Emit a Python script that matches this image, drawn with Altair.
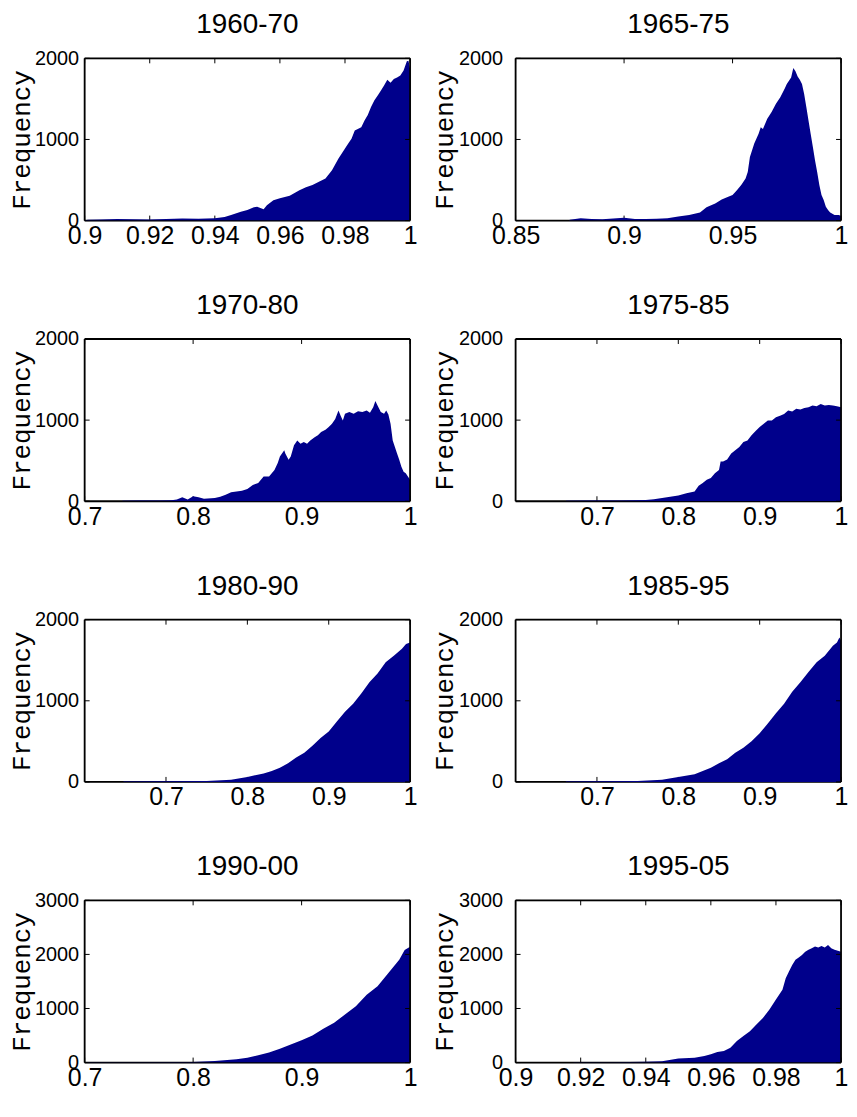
import altair as alt
import pandas as pd

NAVY = "#00008B"
SANS = "Liberation Sans, Arial, sans-serif"
MONO = "Liberation Mono, monospace"

TITLES = ["1960-70", "1965-75", "1970-80", "1975-85",
          "1980-90", "1985-95", "1990-00", "1995-05"]
X_DOMAINS = [[0.9, 1], [0.85, 1], [0.7, 1], [0.6, 1],
             [0.6, 1], [0.6, 1], [0.7, 1], [0.9, 1]]
X_TICKS = [[0.9, 0.92, 0.94, 0.96, 0.98, 1],
           [0.85, 0.9, 0.95, 1],
           [0.7, 0.8, 0.9, 1],
           [0.7, 0.8, 0.9, 1],
           [0.7, 0.8, 0.9, 1],
           [0.7, 0.8, 0.9, 1],
           [0.7, 0.8, 0.9, 1],
           [0.9, 0.92, 0.94, 0.96, 0.98, 1]]
Y_MAX = [2000, 2000, 2000, 2000, 2000, 2000, 3000, 3000]
Y_TICKS = [[0, 1000, 2000]] * 6 + [[0, 1000, 2000, 3000]] * 2

# 1960-70
X_1960 = [0.9, 0.901, 0.905, 0.91, 0.915, 0.92, 0.925, 0.93, 0.935, 0.94, 0.943,
          0.945, 0.948, 0.95, 0.952, 0.953, 0.955, 0.956, 0.958, 0.96, 0.963, 0.966,
          0.968, 0.97, 0.972, 0.974, 0.976, 0.978, 0.98, 0.981, 0.982, 0.983, 0.985,
          0.986, 0.987, 0.988, 0.989, 0.99, 0.991, 0.992, 0.993, 0.994, 0.995, 0.996,
          0.997, 0.998, 0.999, 0.9995, 1.0]
F_1960 = [0, 10, 12, 18, 15, 14, 20, 25, 22, 30, 45, 70, 110, 130, 165, 170, 140,
          190, 250, 275, 305, 375, 410, 440, 480, 520, 620, 765, 890, 950, 1010,
          1110, 1150, 1235, 1300, 1400, 1480, 1540, 1600, 1665, 1735, 1700, 1745,
          1765, 1790, 1850, 1965, 1970, 1870]

# 1965-75
X_1965 = [0.8745, 0.875, 0.88, 0.885, 0.89, 0.895, 0.9, 0.905, 0.91, 0.915, 0.92,
          0.925, 0.93, 0.935, 0.938, 0.942, 0.945, 0.948, 0.95, 0.952, 0.954, 0.956,
          0.957, 0.958, 0.96, 0.962, 0.963, 0.964, 0.966, 0.968, 0.97, 0.972, 0.974,
          0.975, 0.976, 0.977, 0.978, 0.979, 0.98, 0.981, 0.982, 0.983, 0.984, 0.985,
          0.986, 0.987, 0.988, 0.989, 0.99, 0.991, 0.992, 0.993, 0.994, 0.995, 0.997,
          0.999, 1.0]
F_1965 = [0, 10, 30, 20, 15, 25, 35, 20, 20, 22, 30, 50, 70, 100, 165, 210, 260,
          295, 315, 375, 440, 520, 600, 785, 950, 1070, 1150, 1130, 1255, 1340, 1440,
          1520, 1625, 1685, 1725, 1765, 1880, 1840, 1775, 1735, 1685, 1560, 1400,
          1235, 1070, 910, 745, 600, 440, 315, 255, 170, 130, 100, 70, 70, 55]

# 1970-80
X_1970 = [0.7345, 0.735, 0.75, 0.77, 0.78, 0.785, 0.79, 0.795, 0.8, 0.805, 0.81,
          0.82, 0.825, 0.83, 0.835, 0.84, 0.845, 0.85, 0.855, 0.86, 0.865, 0.87,
          0.875, 0.878, 0.88, 0.884, 0.885, 0.888, 0.89, 0.893, 0.896, 0.899, 0.902,
          0.905, 0.908, 0.912, 0.915, 0.918, 0.922, 0.925, 0.928, 0.931, 0.934,
          0.936, 0.938, 0.94, 0.944, 0.948, 0.952, 0.956, 0.96, 0.963, 0.966, 0.968,
          0.97, 0.973, 0.976, 0.978, 0.98, 0.982, 0.984, 0.986, 0.988, 0.99, 0.992,
          0.994, 0.996, 0.998, 1.0]
F_1970 = [0, 5, 8, 10, 12, 20, 50, 20, 60, 50, 30, 40, 55, 80, 110, 120, 130, 150,
          200, 225, 305, 305, 385, 470, 550, 630, 590, 510, 550, 690, 750, 710, 730,
          710, 750, 790, 815, 855, 880, 915, 955, 1015, 1120, 1055, 995, 1080, 1100,
          1080, 1110, 1100, 1120, 1090, 1160, 1235, 1180, 1100, 1080, 1120, 1070,
          955, 750, 670, 590, 510, 425, 365, 345, 305, 265]

# 1975-85
X_1975 = [0.6615, 0.662, 0.7, 0.73, 0.76, 0.77, 0.78, 0.79, 0.8, 0.81, 0.82, 0.825,
          0.83, 0.835, 0.84, 0.845, 0.85, 0.852, 0.855, 0.86, 0.865, 0.87, 0.875,
          0.88, 0.885, 0.89, 0.895, 0.9, 0.905, 0.91, 0.915, 0.92, 0.925, 0.93,
          0.935, 0.94, 0.945, 0.95, 0.955, 0.96, 0.965, 0.97, 0.975, 0.98, 0.985,
          0.99, 0.995, 1.0]
F_1975 = [0, 5, 8, 10, 15, 25, 40, 55, 70, 100, 120, 190, 225, 265, 285, 345, 385,
          490, 490, 515, 590, 630, 670, 730, 750, 815, 865, 915, 955, 995, 995, 1035,
          1055, 1075, 1120, 1105, 1140, 1130, 1150, 1160, 1180, 1170, 1200, 1180,
          1185, 1180, 1170, 1160]

# 1980-90
X_1980 = [0.6475, 0.648, 0.7, 0.75, 0.78, 0.8, 0.82, 0.83, 0.84, 0.85, 0.86, 0.87,
          0.88, 0.89, 0.9, 0.91, 0.92, 0.93, 0.94, 0.95, 0.96, 0.97, 0.98, 0.99,
          0.995, 1.0]
F_1980 = [0, 5, 8, 12, 25, 60, 105, 135, 175, 230, 300, 360, 445, 540, 620, 745,
          865, 965, 1090, 1230, 1335, 1475, 1555, 1640, 1700, 1720]

# 1985-95
X_1985 = [0.6615, 0.662, 0.7, 0.75, 0.78, 0.8, 0.82, 0.83, 0.84, 0.85, 0.86, 0.87,
          0.88, 0.89, 0.9, 0.91, 0.92, 0.93, 0.94, 0.95, 0.96, 0.97, 0.98, 0.99,
          0.995, 0.998, 1.0]
F_1985 = [0, 5, 8, 12, 25, 60, 95, 135, 175, 230, 280, 360, 420, 500, 600, 720, 845,
          965, 1110, 1230, 1355, 1475, 1555, 1680, 1720, 1780, 1740]

# 1990-00
X_1990 = [0.7025, 0.703, 0.75, 0.8, 0.82, 0.84, 0.85, 0.86, 0.87, 0.88, 0.89, 0.9,
          0.91, 0.92, 0.93, 0.94, 0.95, 0.96, 0.97, 0.98, 0.99, 0.995, 1.0]
F_1990 = [0, 5, 8, 12, 30, 60, 90, 135, 185, 255, 335, 415, 500, 625, 735, 890,
          1040, 1255, 1410, 1655, 1900, 2080, 2140]

# 1995-05
X_1995 = [0.9175, 0.918, 0.93, 0.94, 0.945, 0.95, 0.955, 0.958, 0.96, 0.962, 0.964,
          0.966, 0.968, 0.97, 0.972, 0.974, 0.976, 0.978, 0.98, 0.982, 0.983, 0.984,
          0.985, 0.986, 0.987, 0.988, 0.989, 0.99, 0.991, 0.992, 0.993, 0.994, 0.995,
          0.996, 0.997, 0.998, 0.999, 1.0]
F_1995 = [0, 5, 8, 15, 25, 75, 90, 120, 155, 195, 215, 275, 400, 490, 580, 705, 825,
          980, 1165, 1345, 1560, 1685, 1805, 1900, 1945, 1990, 2050, 2085, 2115, 2145,
          2130, 2155, 2130, 2175, 2115, 2085, 2070, 2050]

XS = [X_1960, X_1965, X_1970, X_1975, X_1980, X_1985, X_1990, X_1995]
FS = [F_1960, F_1965, F_1970, F_1975, F_1980, F_1985, F_1990, F_1995]

W, H = 327, 163
TICK = 5
FRAME = 1.8


def panel(i, label_pad, extent, title_pad):
    df = pd.DataFrame({"x": XS[i], "f": FS[i]})
    xs = alt.Scale(domain=X_DOMAINS[i], nice=False, zero=False)
    ys = alt.Scale(domain=[0, Y_MAX[i]], nice=False)
    xt = pd.DataFrame({"t": X_TICKS[i]})
    yt = pd.DataFrame({"t": Y_TICKS[i]})
    one = pd.DataFrame({"k": [0]})

    ax_x = alt.Axis(values=X_TICKS[i], format="~g", title=None, ticks=False,
                    labelFont=SANS, labelFontSize=25, labelPadding=3,
                    labelColor="black", domain=False, grid=False, labelFlush=False)
    ax_y = alt.Axis(values=Y_TICKS[i], format="d", title="Frequency", ticks=False,
                    labelFont=SANS, labelFontSize=20, labelPadding=label_pad,
                    labelColor="black", domain=False, grid=False,
                    titleFont=MONO, titleFontSize=26, titleFontWeight="normal",
                    titleColor="black", titlePadding=title_pad,
                    minExtent=extent, maxExtent=extent, labelFlush=False)

    X = alt.X("x:Q", scale=xs, axis=ax_x, title=None)
    Y = alt.Y("f:Q", scale=ys, axis=ax_y, title="Frequency")
    XT = alt.X("t:Q", scale=xs, axis=ax_x, title=None)
    YT = alt.Y("t:Q", scale=ys, axis=ax_y, title="Frequency")

    frame_bottom = alt.Chart(one).mark_rule(color="black", strokeWidth=FRAME).encode(
        x=alt.value(0), x2=alt.value(W), y=alt.value(H))
    bot = alt.Chart(xt).mark_rule(color="black", strokeWidth=1).encode(
        x=XT, y=alt.value(H), y2=alt.value(H - TICK))
    lft = alt.Chart(yt).mark_rule(color="black", strokeWidth=1).encode(
        y=YT, x=alt.value(0), x2=alt.value(TICK))
    area = alt.Chart(df).mark_area(color=NAVY, interpolate="linear", clip=True).encode(
        x=X, y=Y)
    top = alt.Chart(xt).mark_rule(color="black", strokeWidth=1).encode(
        x=XT, y=alt.value(0), y2=alt.value(TICK))
    rgt = alt.Chart(yt).mark_rule(color="black", strokeWidth=1).encode(
        y=YT, x=alt.value(W), x2=alt.value(W - TICK))
    frame_top = alt.Chart(one).mark_rule(color="black", strokeWidth=FRAME).encode(
        x=alt.value(0), x2=alt.value(W), y=alt.value(0))
    frame_left = alt.Chart(one).mark_rule(color="black", strokeWidth=FRAME).encode(
        y=alt.value(0), y2=alt.value(H), x=alt.value(0))
    frame_right = alt.Chart(one).mark_rule(color="black", strokeWidth=FRAME).encode(
        y=alt.value(0), y2=alt.value(H), x=alt.value(W))

    return alt.layer(frame_bottom, bot, lft, area, top, rgt,
                     frame_top, frame_left, frame_right).properties(
        width=W, height=H,
        title=alt.TitleParams(TITLES[i], font=SANS, fontSize=28, fontWeight="normal",
                              color="black", anchor="middle", offset=9),
    )


rows = []
for r in range(4):
    rows.append(alt.hconcat(panel(2 * r, 6, 50, 0), panel(2 * r + 1, 13, 58, 0),
                            spacing=13))

chart = alt.vconcat(*rows, spacing=42).properties(
    padding={"left": 0, "top": 0, "right": 0, "bottom": 0}
).configure_view(
    strokeWidth=0
).configure(background="white")

chart.save("out.html", embed_options={"renderer": "svg", "actions": False})
